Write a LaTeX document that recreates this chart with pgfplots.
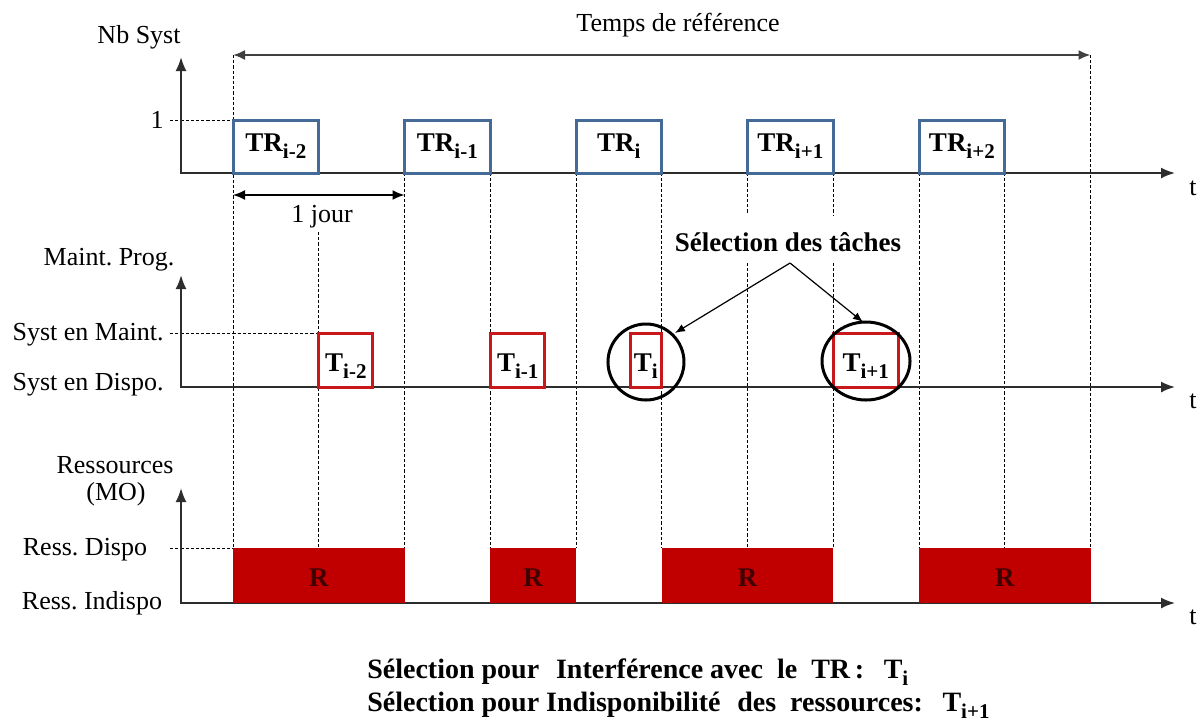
\documentclass[border=0pt]{standalone}
\usepackage{fontspec}
\setmainfont{Liberation Serif}
\usepackage{pgfplots}
\pgfplotsset{compat=1.18}
\usetikzlibrary{arrows.meta,shapes.geometric}
\definecolor{trblue}{RGB}{68,106,152}
\definecolor{tred}{RGB}{200,24,28}
\definecolor{rfill}{RGB}{192,0,0}
\definecolor{axgray}{RGB}{45,45,45}
\newcommand{\sbb}[2][10.5]{\raisebox{-3.5pt}{\fontsize{#1}{12}\selectfont\bfseries #2}}
\frenchspacing
\begin{document}
\begin{tikzpicture}[
  lab/.style={font=\fontsize{13}{15}\selectfont, inner sep=0pt},
  bl/.style={font=\fontsize{13.5}{15}\selectfont\bfseries, inner sep=0pt},
  vd/.style={black, line width=0.5pt, dash pattern=on 1.6pt off 1pt},
  axl/.style={axgray, line width=1pt, {Latex[length=7pt,width=5.5pt]}-{Latex[length=7pt,width=5.5pt]}},
]
\begin{axis}[width=600.5pt, height=362pt, scale only axis,
  xmin=-1.3586, xmax=5.6443, ymin=0, ymax=724, y dir=reverse,
  hide axis, clip=false, unbounded coords=jump]

% background (keeps the page at the full size)
\addplot[fill=white, draw=none] coordinates {(-1.3586,0) (5.6443,0) (5.6443,724) (-1.3586,724)} -- cycle;

% dashed guide lines (x in days, y in rows)
\addplot[vd] coordinates {(0,55) (0,548) (0,nan) (0.5,232) (0.5,548) (0.5,nan)
  (1,173) (1,548) (1,nan) (1.5,173) (1.5,548) (1.5,nan) (2,173) (2,548) (2,nan)
  (2.5,173) (2.5,548) (2.5,nan) (3,173) (3,213) (3,nan) (3,263) (3,548) (3,nan)
  (3.5,173) (3.5,215) (3.5,nan) (3.5,263) (3.5,548) (3.5,nan)
  (4,173) (4,548) (4,nan) (4.5,173) (4.5,548) (4.5,nan) (5,55) (5,548)};
\addplot[vd] coordinates {(-0.367,120) (0,120) (0,nan) (-0.367,333) (0.5,333) (0.5,nan) (-0.367,548) (0,548)};

% axes
\addplot[axl] coordinates {(-0.303,57) (-0.303,173) (5.493,173)};
\addplot[axl] coordinates {(-0.303,275) (-0.303,387) (5.493,387)};
\addplot[axl] coordinates {(-0.303,488) (-0.303,603) (5.493,603)};

% reference time and one day
\addplot[black!75, line width=1pt, {Latex[length=6pt,width=5pt]}-{Latex[length=6pt,width=5pt]}] coordinates {(0,55) (5,55)};
\addplot[black, line width=0.8pt, {Latex[length=6pt,width=5pt]}-{Latex[length=6pt,width=5pt]}] coordinates {(0,195) (1,195)};

% resources (R)
\addplot[fill=rfill, draw=none] coordinates {(0,548) (1,548) (1,603) (0,603)} -- cycle;
\addplot[fill=rfill, draw=none] coordinates {(1.5,548) (2,548) (2,603) (1.5,603)} -- cycle;
\addplot[fill=rfill, draw=none] coordinates {(2.5,548) (3.5,548) (3.5,603) (2.5,603)} -- cycle;
\addplot[fill=rfill, draw=none] coordinates {(4,548) (5,548) (5,603) (4,603)} -- cycle;

% TR boxes
\addplot[draw=trblue, line width=1.5pt] coordinates {(0,120) (0.5,120) (0.5,173) (0,173)} -- cycle;
\addplot[draw=trblue, line width=1.5pt] coordinates {(1,120) (1.5,120) (1.5,173) (1,173)} -- cycle;
\addplot[draw=trblue, line width=1.5pt] coordinates {(2,120) (2.5,120) (2.5,173) (2,173)} -- cycle;
\addplot[draw=trblue, line width=1.5pt] coordinates {(3,120) (3.5,120) (3.5,173) (3,173)} -- cycle;
\addplot[draw=trblue, line width=1.5pt] coordinates {(4,120) (4.5,120) (4.5,173) (4,173)} -- cycle;

% maintenance tasks
\addplot[draw=tred, line width=1.5pt] coordinates {(0.5,333) (0.816,333) (0.816,387) (0.5,387)} -- cycle;
\addplot[draw=tred, line width=1.5pt] coordinates {(1.5,333) (1.819,333) (1.819,387) (1.5,387)} -- cycle;
\addplot[draw=tred, line width=1.5pt] coordinates {(2.315,333) (2.5,333) (2.5,387) (2.315,387)} -- cycle;
\addplot[draw=tred, line width=1.5pt] coordinates {(3.5,333) (3.878,333) (3.878,387) (3.5,387)} -- cycle;

% selection circles and arrows
\node[draw=black, line width=1.5pt, circle, minimum size=38pt, inner sep=0pt] at (axis cs:2.408,362) {};
\node[draw=black, line width=1.5pt, ellipse, minimum width=44pt, minimum height=39pt, inner sep=0pt] at (axis cs:3.691,361) {};
\addplot[black, line width=0.6pt, -{Latex[length=5pt,width=4pt]}] coordinates {(3.248,263) (2.577,333)};
\addplot[black, line width=0.6pt, -{Latex[length=5pt,width=4pt]}] coordinates {(3.248,263) (3.673,322)};

% texts
\node[lab] at (axis cs:2.595,25) {Temps de référence};
\node[lab] at (axis cs:-0.548,37) {Nb Syst};
\node[lab] at (axis cs:-0.443,120) {1};
\node[lab] at (axis cs:5.598,188) {t};
\node[lab] at (axis cs:5.598,401) {t};
\node[lab] at (axis cs:5.598,617) {t};
\node[lab] at (axis cs:0.519,217) {1 jour};
\node[lab] at (axis cs:-0.723,260) {Maint. Prog.};
\node[lab] at (axis cs:-0.845,335) {Syst en Maint.};
\node[lab] at (axis cs:-0.845,385) {Syst en Dispo.};
\node[lab] at (axis cs:-0.688,465) {Ressources};
\node[lab] at (axis cs:-0.682,494) {(MO)};
\node[lab] at (axis cs:-0.863,550) {Ress. Dispo};
\node[lab] at (axis cs:-0.822,603) {Ress. Indispo};

\node[bl, anchor=base] at (axis cs:0.25,151) {TR\sbb{i-2}};
\node[bl, anchor=base] at (axis cs:1.25,151) {TR\sbb{i-1}};
\node[bl, anchor=base] at (axis cs:2.25,151) {TR\sbb{i}};
\node[bl, anchor=base] at (axis cs:3.25,151) {TR\sbb{i+1}};
\node[bl, anchor=base] at (axis cs:4.25,151) {TR\sbb{i+2}};

\node[bl, anchor=base] at (axis cs:0.658,371) {T\sbb{i-2}};
\node[bl, anchor=base] at (axis cs:1.66,371) {T\sbb{i-1}};
\node[bl, anchor=base] at (axis cs:2.407,371) {T\sbb{i}};
\node[bl, anchor=base] at (axis cs:3.689,371) {T\sbb{i+1}};

\node[bl, text=black!75!red] at (axis cs:0.5,578) {R};
\node[bl, text=black!75!red] at (axis cs:1.75,578) {R};
\node[bl, text=black!75!red] at (axis cs:3,578) {R};
\node[bl, text=black!75!red] at (axis cs:4.5,578) {R};

\node[bl] at (axis cs:3.236,242) {Sélection des tâches};

\node[anchor=base west, inner sep=0pt, font=\fontsize{14}{16}\selectfont\bfseries] at (axis cs:0.781,678)
  {Sélection pour\hspace{0.6em}Interférence avec\hspace{0.5em}le\hspace{0.5em}TR\,:\hspace{0.7em}T\sbb{i}};
\node[anchor=base west, inner sep=0pt, font=\fontsize{14}{16}\selectfont\bfseries] at (axis cs:0.781,711)
  {Sélection pour Indisponibilité\hspace{0.6em}des\hspace{0.5em}ressources:\hspace{0.7em}T\sbb{i+1}};
\end{axis}
\end{tikzpicture}
\end{document}
